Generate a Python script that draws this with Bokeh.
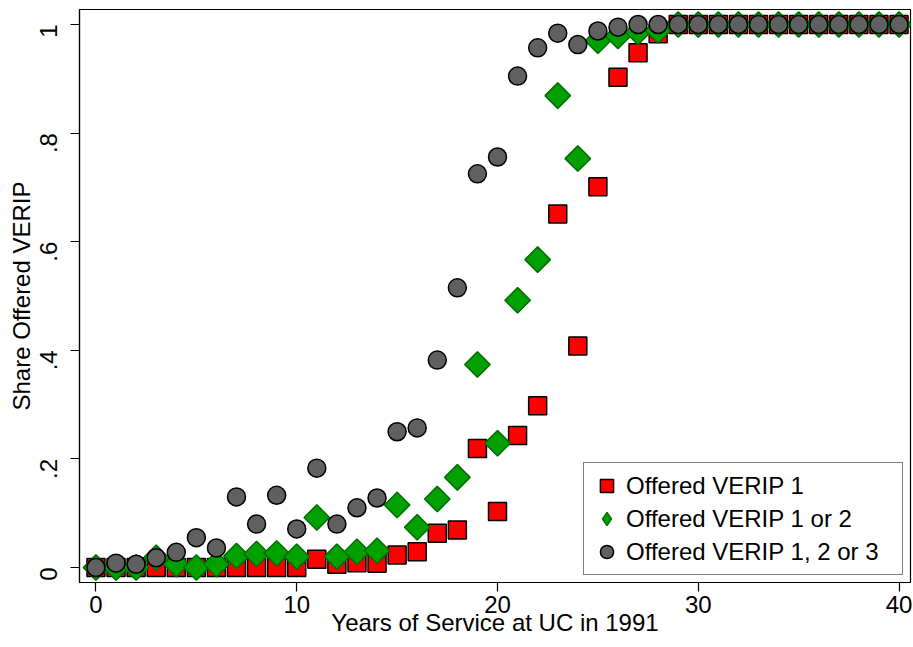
import math
from bokeh.plotting import figure
from bokeh.models import FixedTicker, Legend, LegendItem, Range1d
from bokeh.embed import file_html
from bokeh.resources import INLINE

years = list(range(0, 41))
verip1 = [0, 0, 0, 0, 0, 0, 0, 0, 0, 0, 0,
          0.015, 0.006, 0.009, 0.008, 0.023, 0.029, 0.063, 0.069, 0.219, 0.103,
          0.243, 0.298, 0.651, 0.408, 0.701, 0.903, 0.948, 0.983] + [1] * 12
verip12 = [0, 0, 0, 0.018, 0.006, 0, 0.006, 0.021, 0.025, 0.026, 0.020,
           0.092, 0.020, 0.029, 0.031, 0.115, 0.074, 0.126, 0.166, 0.374, 0.229,
           0.492, 0.567, 0.869, 0.753, 0.970, 0.979, 0.986, 0.989] + [1] * 12
verip123 = [0, 0.008, 0.006, 0.018, 0.028, 0.055, 0.036, 0.130, 0.080, 0.133, 0.071,
            0.183, 0.080, 0.110, 0.128, 0.250, 0.257, 0.382, 0.515, 0.725, 0.756,
            0.905, 0.957, 0.984, 0.963, 0.988, 0.995, 1, 1] + [1] * 12
x_ticks = [0, 10, 20, 30, 40]
y_ticks = [0, 0.2, 0.4, 0.6, 0.8, 1]
y_tick_labels = ["0", ".2", ".4", ".6", ".8", "1"]
labels = ["Offered VERIP 1", "Offered VERIP 1 or 2", "Offered VERIP 1, 2 or 3"]

FONT = "Liberation Sans"
FS = "24px"

p = figure(width=912, height=640, output_backend="svg", toolbar_location=None,
           x_range=Range1d(-0.82, 40.57), y_range=Range1d(-0.0276, 1.0276),
           min_border_left=79, min_border_top=9, min_border_right=2, min_border_bottom=58)
p.background_fill_color = "white"
p.border_fill_color = "white"
p.outline_line_color = "black"
p.outline_line_width = 1.2
p.xgrid.visible = False
p.ygrid.visible = False

r1 = p.scatter(years, verip1, marker="square", size=18, fill_color="#ff0000",
               line_color="black", line_width=1.5)
r2 = p.scatter(years, verip12, marker="square", size=18, angle=math.pi / 4,
               fill_color="#00a000", line_color="#006e00", line_width=1.5)
r3 = p.scatter(years, verip123, marker="circle", size=18, fill_color="#606060",
               line_color="black", line_width=1.5)
# hidden copy of the diamond series, used only for its legend key
# (legend keys are drawn unrotated, so a rotated square would show as a square)
r2_key = p.scatter(years, verip12, marker="diamond", size=18, visible=False,
                   fill_color="#00a000", line_color="#006e00", line_width=1.5)

for ax in (p.xaxis[0], p.yaxis[0]):
    ax.axis_line_color = "black"
    ax.axis_line_width = 1.2
    ax.major_tick_line_color = "black"
    ax.major_tick_line_width = 1.2
    ax.major_tick_out = 9
    ax.major_tick_in = 0
    ax.minor_tick_line_color = None
    ax.major_label_text_font = FONT
    ax.major_label_text_font_size = FS
    ax.major_label_text_color = "black"
    ax.axis_label_text_font = FONT
    ax.axis_label_text_font_size = FS
    ax.axis_label_text_font_style = "normal"
    ax.axis_label_text_color = "black"

p.xaxis.ticker = FixedTicker(ticks=x_ticks)
p.xaxis.axis_label = "Years of Service at UC in 1991"
p.xaxis.major_label_standoff = 4
p.xaxis.axis_label_standoff = -7

p.yaxis.ticker = FixedTicker(ticks=y_ticks)
p.yaxis.major_label_overrides = {t: l for t, l in zip(y_ticks, y_tick_labels)}
p.yaxis.major_label_orientation = math.pi / 2
p.yaxis.axis_label = "Share Offered VERIP"
p.yaxis.major_label_standoff = 22
p.yaxis.axis_label_standoff = -6

legend = Legend(items=[LegendItem(label=labels[0], renderers=[r1]),
                       LegendItem(label=labels[1], renderers=[r2_key]),
                       LegendItem(label=labels[2], renderers=[r3])],
                location="bottom_right")
legend.label_text_font = FONT
legend.label_text_font_size = FS
legend.label_text_color = "black"
legend.border_line_color = "black"
legend.border_line_width = 1.2
legend.background_fill_color = "white"
legend.background_fill_alpha = 1
legend.inactive_fill_alpha = 0
legend.margin = 7
legend.padding = 6
legend.spacing = 0
legend.glyph_width = 33
legend.glyph_height = 33
legend.label_standoff = 3
legend.label_height = 33
legend.label_width = 270
p.add_layout(legend)

open("out.html", "w").write(file_html(p, INLINE))
